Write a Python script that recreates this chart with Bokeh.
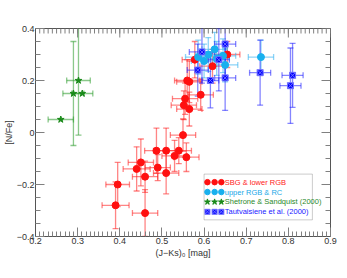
import math
import numpy as np
from bokeh.plotting import figure
from bokeh.models import (ColumnDataSource, Whisker, TeeHead, BoxAnnotation,
                          SingleIntervalTicker)
from bokeh.core.properties import value
from bokeh.embed import file_html
from bokeh.resources import INLINE

# ---- data ----
red_x = [0.39, 0.395, 0.46, 0.44, 0.45, 0.46, 0.487, 0.49, 0.51, 0.51, 0.53, 0.54,
         0.558, 0.55, 0.552, 0.565, 0.555, 0.592, 0.56, 0.565, 0.578, 0.62, 0.655]
red_y = [-0.28, -0.20, -0.31, -0.14, -0.115, -0.17, -0.07, -0.135, -0.07, -0.156, -0.09, -0.07,
         -0.095, -0.01, 0.105, 0.09, 0.13, 0.145, 0.20, 0.195, 0.28, 0.255, 0.30]
red_xerr = [0.032, 0.028, 0.03, 0.032, 0.03, 0.03, 0.028, 0.03, 0.03, 0.03, 0.03, 0.03,
            0.03, 0.03, 0.03, 0.03, 0.03, 0.03, 0.03, 0.03, 0.03, 0.03, 0.03]
red_yerr = [0.09, 0.085, 0.09, 0.085, 0.09, 0.06, 0.087, 0.05, 0.087, 0.08, 0.06, 0.05,
            0.055, 0.062, 0.055, 0.065, 0.06, 0.06, 0.08, 0.08, 0.07, 0.065, 0.05]

cyan_x = [0.586, 0.60, 0.61, 0.625, 0.63, 0.645, 0.65, 0.735]
cyan_y = [0.29, 0.275, 0.30, 0.32, 0.285, 0.295, 0.26, 0.29]
cyan_xerr = [0.03, 0.03, 0.03, 0.03, 0.03, 0.03, 0.03, 0.03]
cyan_yerr = [0.065, 0.065, 0.065, 0.065, 0.065, 0.065, 0.065, 0.065]

green_x = [0.26, 0.29, 0.302, 0.311]
green_y = [0.05, 0.15, 0.20, 0.15]
green_xerr = [0.03, 0.025, 0.028, 0.025]
green_yerr = [0.0, 0.20, 0.21, 0.0]

blue_x = [0.585, 0.595, 0.615, 0.635, 0.65, 0.65, 0.733, 0.805, 0.81]
blue_y = [0.24, 0.31, 0.20, 0.28, 0.34, 0.21, 0.23, 0.18, 0.22]
blue_xerr = [0.025, 0.03, 0.02, 0.025, 0.025, 0.025, 0.025, 0.025, 0.025]
blue_yerr = [0.10, 0.12, 0.105, 0.12, 0.12, 0.125, 0.125, 0.145, 0.123]

series_labels = ["SBG & lower RGB", "upper RGB & RC", "Shetrone & Sandquist (2000)",
                 "Tautvaisiene et al. (2000)"]

X_MIN, X_MAX, X_STEP, X_MINOR = 0.2, 0.9, 0.1, 10
Y_MIN, Y_MAX, Y_STEP, Y_MINOR = -0.4, 0.4, 0.2, 4

FONT = "Liberation Sans"
TICK_COLOR = "#808080"
MAJ_LEN, MIN_LEN = 9, 5

p = figure(frame_width=295, frame_height=208, x_range=(X_MIN, X_MAX), y_range=(Y_MIN, Y_MAX),
           output_backend="svg", toolbar_location=None,
           min_border_left=24, min_border_top=28, min_border_right=12, min_border_bottom=30,
           background_fill_color="white", border_fill_color="white")
p.grid.visible = False
p.outline_line_color = "#555555"


def style_axis(ax, step, minor):
    ax.ticker = SingleIntervalTicker(interval=step, num_minor_ticks=minor)
    ax.major_tick_in = MAJ_LEN
    ax.major_tick_out = 0
    ax.minor_tick_in = MIN_LEN
    ax.minor_tick_out = 0
    ax.major_tick_line_color = TICK_COLOR
    ax.minor_tick_line_color = TICK_COLOR
    ax.axis_line_color = "#555555"
    ax.major_label_text_font = FONT
    ax.major_label_text_font_size = "9px"
    ax.major_label_text_color = "#333333"
    ax.major_label_standoff = 1
    ax.axis_label_text_font = FONT
    ax.axis_label_text_font_size = "9px"
    ax.axis_label_text_font_style = "normal"
    ax.axis_label_text_color = "#333333"
    ax.axis_label_standoff = 0


style_axis(p.xaxis[0], X_STEP, X_MINOR)
style_axis(p.yaxis[0], Y_STEP, Y_MINOR)
p.xaxis[0].axis_label = "(J\u2212Ks)\u2080 [mag]"
p.xaxis[0].axis_label_standoff = 1
p.yaxis[0].axis_label = "[N/Fe]"

# mirrored tick marks on the top and right frame edges
xmaj = np.round(np.arange(X_MIN, X_MAX + 1e-9, X_STEP), 6)
xmin_ = np.round(np.arange(X_MIN, X_MAX + 1e-9, X_STEP / X_MINOR), 6)
ymaj = np.round(np.arange(Y_MIN, Y_MAX + 1e-9, Y_STEP), 6)
ymin_ = np.round(np.arange(Y_MIN, Y_MAX + 1e-9, Y_STEP / Y_MINOR), 6)
p.ray(x=xmin_, y=[Y_MAX] * len(xmin_), length=MIN_LEN, angle=-math.pi / 2, length_units="screen",
      line_color=TICK_COLOR, line_width=1)
p.ray(x=xmaj, y=[Y_MAX] * len(xmaj), length=MAJ_LEN, angle=-math.pi / 2, length_units="screen",
      line_color=TICK_COLOR, line_width=1)
p.ray(x=[X_MAX] * len(ymin_), y=ymin_, length=MIN_LEN, angle=math.pi, length_units="screen",
      line_color=TICK_COLOR, line_width=1)
p.ray(x=[X_MAX] * len(ymaj), y=ymaj, length=MAJ_LEN, angle=math.pi, length_units="screen",
      line_color=TICK_COLOR, line_width=1)


def add_series(xs, ys, xe, ye, color, bar_color, marker, size, line_color=None):
    src = ColumnDataSource(dict(x=xs, y=ys,
                                xl=[a - e for a, e in zip(xs, xe)], xu=[a + e for a, e in zip(xs, xe)]))
    yx = [a for a, e in zip(xs, ye) if e > 0]
    yy = [a for a, e in zip(ys, ye) if e > 0]
    yel = [e for e in ye if e > 0]
    ysrc = ColumnDataSource(dict(x=yx, yl=[a - e for a, e in zip(yy, yel)],
                                 yu=[a + e for a, e in zip(yy, yel)]))

    def head():
        return TeeHead(size=6, line_color=bar_color, line_alpha=0.55, line_width=1.3)

    wx = Whisker(source=src, base="y", lower="xl", upper="xu", dimension="width",
                 line_color=bar_color, line_alpha=0.55, line_width=1.3,
                 lower_head=head(), upper_head=head())
    wy = Whisker(source=ysrc, base="x", lower="yl", upper="yu", dimension="height",
                 line_color=bar_color, line_alpha=0.55, line_width=1.3,
                 lower_head=head(), upper_head=head())
    p.add_layout(wx)
    p.add_layout(wy)
    p.scatter("x", "y", source=src, marker=marker, size=size, fill_color=color,
              line_color=line_color or color)


add_series(red_x, red_y, red_xerr, red_yerr, "#ff1010", "#ff2020", "circle", 7)
add_series(cyan_x, cyan_y, cyan_xerr, cyan_yerr, "#18b0ee", "#30b0f0", "circle", 7)
add_series(green_x, green_y, green_xerr, green_yerr, "#1a8a1a", "#2a9a2a", "star", 7)
add_series(blue_x, blue_y, blue_xerr, blue_yerr, "#0000ff", "#2020ff", "square_x", 6, "#7070ff")

# ---- legend (drawn manually, IDL style with three symbols per entry) ----
leg_colors = ["#ff1010", "#18b0ee", "#1a8a1a", "#0000ff"]
leg_text_colors = ["#ff2020", "#20a8e8", "#2a8a2a", "#2020ff"]
leg_markers = ["circle", "circle", "star", "square_x"]
leg_sizes = [5.5, 5.5, 6, 5]
leg_rows = [-0.191, -0.229, -0.267, -0.305]
leg_sym_x = [0.608, 0.625, 0.641]
p.add_layout(BoxAnnotation(left=0.600, right=0.857, top=-0.160, bottom=-0.336,
                           fill_color="white", fill_alpha=1.0, line_color="#555555",
                           line_width=1, level="guide"))
for i in range(4):
    p.scatter(leg_sym_x, [leg_rows[i]] * 3, marker=leg_markers[i], size=leg_sizes[i],
              fill_color=leg_colors[i], line_color="#7070ff" if i == 3 else leg_colors[i],
              level="overlay")
p.text([0.649] * 4, leg_rows, text=series_labels, text_color=leg_text_colors,
       text_font=value(FONT), text_font_size="7.5px", text_baseline="middle",
       text_align="left", level="overlay")

open("out.html", "w").write(file_html(p, INLINE))
